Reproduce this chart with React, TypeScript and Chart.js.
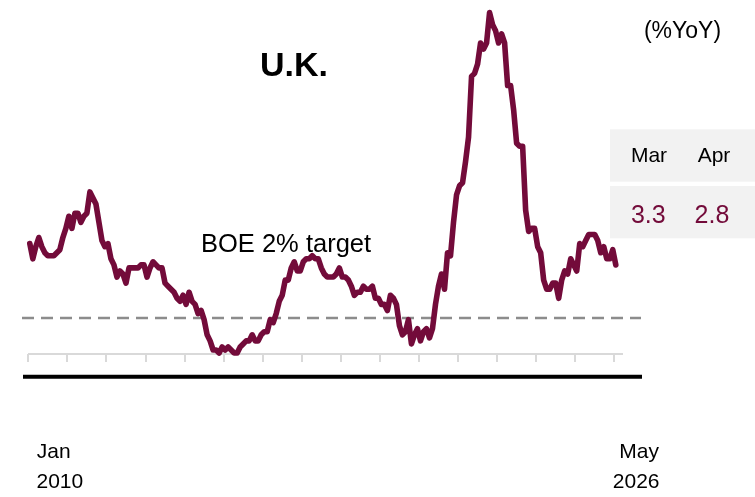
import React, { useEffect, useRef } from "react";
import { Chart, registerables } from "chart.js";

Chart.register(...registerables);

// ---- data (UK CPI, % YoY, monthly) ----
const START_YEAR = 2010;
const MONTH_NAMES = ["Jan", "Feb", "Mar", "Apr", "May", "Jun", "Jul", "Aug", "Sep", "Oct", "Nov", "Dec"];
const CPI_2010 = [3.5, 3.0, 3.4, 3.7, 3.4, 3.2, 3.1, 3.1, 3.1, 3.2, 3.3, 3.7];
const CPI_2011 = [4.0, 4.4, 4.0, 4.5, 4.5, 4.2, 4.4, 4.5, 5.2, 5.0, 4.8, 4.2];
const CPI_2012 = [3.6, 3.4, 3.5, 3.0, 2.8, 2.4, 2.6, 2.5, 2.2, 2.7, 2.7, 2.7];
const CPI_2013 = [2.7, 2.8, 2.8, 2.4, 2.7, 2.9, 2.8, 2.7, 2.7, 2.2, 2.1, 2.0];
const CPI_2014 = [1.9, 1.7, 1.6, 1.8, 1.5, 1.9, 1.6, 1.5, 1.2, 1.3, 1.0, 0.5];
const CPI_2015 = [0.3, 0.0, 0.0, -0.1, 0.1, 0.0, 0.1, 0.0, -0.1, -0.1, 0.1, 0.2];
const CPI_2016 = [0.3, 0.3, 0.5, 0.3, 0.3, 0.5, 0.6, 0.6, 1.0, 0.9, 1.2, 1.6];
const CPI_2017 = [1.8, 2.3, 2.3, 2.7, 2.9, 2.6, 2.6, 2.9, 3.0, 3.0, 3.1, 3.0];
const CPI_2018 = [3.0, 2.7, 2.5, 2.4, 2.4, 2.4, 2.5, 2.7, 2.4, 2.4, 2.3, 2.1];
const CPI_2019 = [1.8, 1.9, 1.9, 2.1, 2.0, 2.0, 2.1, 1.7, 1.7, 1.5, 1.5, 1.3];
const CPI_2020 = [1.8, 1.7, 1.5, 0.8, 0.5, 0.6, 1.0, 0.2, 0.5, 0.7, 0.3, 0.6];
const CPI_2021 = [0.7, 0.4, 0.7, 1.5, 2.1, 2.5, 2.0, 3.2, 3.1, 4.2, 5.1, 5.4];
const CPI_2022 = [5.5, 6.2, 7.0, 9.0, 9.1, 9.4, 10.1, 9.9, 10.1, 11.1, 10.7, 10.5];
const CPI_2023 = [10.1, 10.4, 10.1, 8.7, 8.7, 7.9, 6.8, 6.7, 6.7, 4.6, 3.9, 4.0];
const CPI_2024 = [4.0, 3.4, 3.2, 2.3, 2.0, 2.0, 2.2, 2.2, 1.7, 2.3, 2.6, 2.5];
const CPI_2025 = [3.0, 2.8, 2.6, 3.5, 3.4, 3.6, 3.8, 3.8, 3.8, 3.6, 3.2, 3.4];
const CPI_2026 = [3.0, 3.0, 3.3, 2.8];
const CPI = [
  ...CPI_2010, ...CPI_2011, ...CPI_2012, ...CPI_2013, ...CPI_2014, ...CPI_2015,
  ...CPI_2016, ...CPI_2017, ...CPI_2018, ...CPI_2019, ...CPI_2020, ...CPI_2021,
  ...CPI_2022, ...CPI_2023, ...CPI_2024, ...CPI_2025, ...CPI_2026,
];
const MONTH_LABELS = CPI.map((_, i) => `${MONTH_NAMES[i % 12]} ${START_YEAR + Math.floor(i / 12)}`);

const TARGET_VALUE = 1.05;
const TARGET_LABEL = "BOE 2% target";
const TITLE = "U.K.";
const UNIT = "(%YoY)";
const TABLE_MONTHS = ["Mar", "Apr"];
const TABLE_VALUES = ["3.3", "2.8"];
const X_FIRST_LABEL = ["Jan", "2010"];
const X_LAST_LABEL = ["May", "2026"];
const TICK_STEP = 13;
const TICK_COUNT = 16;

const LINE_COLOR = "#730b3a";
const FONT = "'Liberation Sans', Arial, Helvetica, sans-serif";

export default function App() {
  const ref = useRef<HTMLCanvasElement | null>(null);

  useEffect(() => {
    const canvas = ref.current;
    if (!canvas) return;

    const decor = {
      id: "decor",
      beforeDatasetsDraw(chart: any) {
        const { ctx, chartArea, scales } = chart;
        const xs = scales.x;
        const ys = scales.y;
        ctx.save();
        // target dashed line
        const ty = ys.getPixelForValue(TARGET_VALUE);
        ctx.strokeStyle = "#8c8c8c";
        ctx.lineWidth = 2.5;
        ctx.setLineDash([12, 7]);
        ctx.beginPath();
        ctx.moveTo(chartArea.left, ty);
        ctx.lineTo(chartArea.right, ty);
        ctx.stroke();
        ctx.setLineDash([]);
        // gray axis with ticks
        const ay = chartArea.bottom;
        ctx.strokeStyle = "#d9d9d9";
        ctx.lineWidth = 2;
        ctx.beginPath();
        ctx.moveTo(xs.getPixelForValue(-0.6), ay);
        ctx.lineTo(xs.getPixelForValue(MONTH_LABELS.length + 1.4), ay);
        ctx.stroke();
        for (let k = 0; k < TICK_COUNT; k++) {
          const tx = Math.round(xs.getPixelForValue(-0.5 + k * TICK_STEP));
          ctx.beginPath();
          ctx.moveTo(tx, ay);
          ctx.lineTo(tx, ay + 8);
          ctx.stroke();
        }
        // black baseline
        ctx.strokeStyle = "#000";
        ctx.lineWidth = 4;
        ctx.beginPath();
        ctx.moveTo(chartArea.left + 1, ay + 22.7);
        ctx.lineTo(chartArea.right + 1, ay + 22.7);
        ctx.stroke();
        ctx.restore();
      },
      afterDraw(chart: any) {
        const { ctx } = chart;
        ctx.save();
        // title
        ctx.fillStyle = "#000";
        ctx.textAlign = "center";
        ctx.textBaseline = "alphabetic";
        ctx.font = `bold 34px ${FONT}`;
        ctx.fillText(TITLE, 294, 76);
        // unit
        ctx.font = `23px ${FONT}`;
        ctx.fillText(UNIT, 682.5, 38);
        // table
        ctx.fillStyle = "#f2f2f2";
        ctx.fillRect(610, 129.3, 145, 52.4);
        ctx.fillRect(610, 186, 145, 52.3);
        ctx.fillStyle = "#000";
        ctx.font = `21px ${FONT}`;
        ctx.fillText(TABLE_MONTHS[0], 649, 161.7);
        ctx.fillText(TABLE_MONTHS[1], 714, 161.7);
        ctx.fillStyle = LINE_COLOR;
        ctx.font = `25px ${FONT}`;
        ctx.fillText(TABLE_VALUES[0], 648.3, 222.7);
        ctx.fillText(TABLE_VALUES[1], 712, 222.7);
        // target label
        ctx.fillStyle = "#000";
        ctx.textAlign = "left";
        ctx.font = `25.5px ${FONT}`;
        ctx.fillText(TARGET_LABEL, 201, 251.7);
        // x labels
        ctx.font = `21px ${FONT}`;
        ctx.fillText(X_FIRST_LABEL[0], 36.7, 458.3);
        ctx.fillText(X_FIRST_LABEL[1], 36.5, 488.3);
        ctx.textAlign = "right";
        ctx.fillText(X_LAST_LABEL[0], 659, 458.3);
        ctx.fillText(X_LAST_LABEL[1], 659.5, 488.3);
        ctx.restore();
      },
    };

    const chart = new Chart(canvas, {
      type: "line",
      data: {
        datasets: [
          {
            label: "U.K. CPI",
            data: CPI.map((v, i) => ({ x: i, y: v })),
            borderColor: LINE_COLOR,
            backgroundColor: LINE_COLOR,
            borderWidth: 5.6,
            pointRadius: 0,
            tension: 0,
            borderJoinStyle: "round",
            borderCapStyle: "round",
            clip: false as any,
          },
        ],
      },
      options: {
        responsive: false,
        animation: false,
        events: [],
        layout: { padding: { left: 22, right: 114, top: 0, bottom: 143 } },
        plugins: { legend: { display: false }, tooltip: { enabled: false }, title: { display: false } },
        scales: {
          x: { type: "linear", display: false, min: -2.6, max: -2.6 + 619 / 3.005 },
          y: { type: "linear", display: false, min: -4 / 30.4, max: 350 / 30.4 },
        },
      },
      plugins: [decor],
    });
    return () => chart.destroy();
  }, []);

  return (
    <div style={{ position: "absolute", left: 0, top: 0, width: 755, height: 497, background: "#fff" }}>
      <canvas ref={ref} width={755} height={497} style={{ display: "block", width: 755, height: 497 }} />
    </div>
  );
}
